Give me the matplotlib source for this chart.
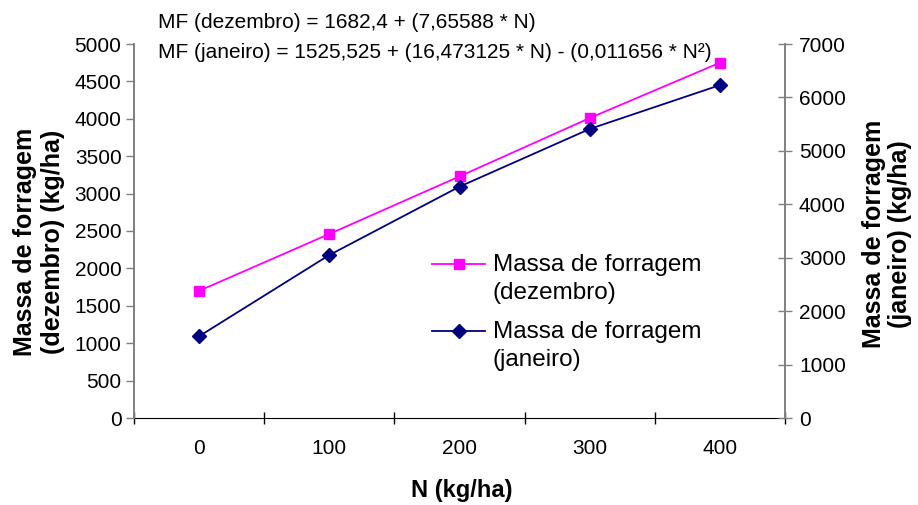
import matplotlib
matplotlib.use("Agg")
import matplotlib.pyplot as plt
import numpy as np

plt.rcParams['font.family'] = ['Liberation Sans', 'DejaVu Sans']

# N doses (kg/ha) and forage mass for each month
doses = ['0', '100', '200', '300', '400']
mf_dezembro = [1700, 2460, 3230, 4010, 4750]
mf_janeiro = [1530, 3050, 4330, 5410, 6230]

eq_dez = 'MF (dezembro) = 1682,4 + (7,65588 * N)'
eq_jan = 'MF (janeiro) = 1525,525 + (16,473125 * N) - (0,011656 * N\u00b2)'

fig = plt.figure(figsize=(9.18, 5.05), dpi=100)
ax = fig.add_axes([134 / 918, 87 / 505, (785 - 134) / 918, (418 - 44) / 505])
ax2 = ax.twinx()

x = np.arange(len(doses))
l1, = ax.plot(x, mf_dezembro, color='#FF00FF', lw=1.3, marker='s', ms=7.5,
              label='Massa de forragem\n(dezembro)')
l2, = ax2.plot(x, mf_janeiro, color='#000080', lw=1.3, marker='D', ms=7,
               label='Massa de forragem\n(janeiro)')

ax.set_xlim(-0.5, len(doses) - 0.5)
ax.set_ylim(0, 5000)
ax2.set_ylim(0, 7000)
ax.set_yticks(np.arange(0, 5001, 500))
ax2.set_yticks(np.arange(0, 7001, 1000))

ax.set_xticks(x)
ax.set_xticklabels(doses)
ax.set_xticks(np.arange(-0.5, len(doses)), minor=True)
ax.tick_params(axis='x', which='major', length=0, pad=15, labelsize=15)
ax.tick_params(axis='x', which='minor', direction='inout', length=9,
               width=1, color='black')
ax.tick_params(axis='y', direction='out', length=6, width=1,
               color='#808080', labelsize=15, pad=3)
ax2.tick_params(axis='y', direction='inout', length=10, width=1,
                color='#808080', labelsize=15, pad=5)

for a in (ax, ax2):
    a.spines['top'].set_visible(False)
    a.spines['left'].set_color('#808080')
    a.spines['right'].set_color('#808080')
    a.spines['bottom'].set_color('black')
    a.spines['left'].set_linewidth(1.2)
    a.spines['right'].set_linewidth(1.2)
ax2.spines['bottom'].set_visible(False)

fig.text(39 / 918, 1 - 242 / 505, 'Massa de forragem\n(dezembro) (kg/ha)',
         rotation=90, ha='center', va='center', fontsize=18,
         fontweight='bold', linespacing=1.2)
fig.text(887 / 918, 1 - 234 / 505, 'Massa de forragem\n(janeiro) (kg/ha)',
         rotation=90, ha='center', va='center', fontsize=18,
         fontweight='bold', linespacing=1.1)
fig.text(462 / 918, 1 - 490 / 505, 'N (kg/ha)', ha='center', va='center',
         fontsize=17, fontweight='bold')

fig.text(158 / 918, 1 - 22 / 505, eq_dez, ha='left', va='center', fontsize=15)
fig.text(158 / 918, 1 - 53 / 505, eq_jan, ha='left', va='center', fontsize=15)

leg = fig.legend(handles=[l1, l2], loc='upper left',
                 bbox_to_anchor=(432 / 918, 1 - 254 / 505),
                 frameon=False, borderpad=0, borderaxespad=0,
                 handlelength=2.2, handleheight=1.1, handletextpad=0.3,
                 labelspacing=0.7, fontsize=17.5)
for t in leg.get_texts():
    t.set_linespacing(1.35)
# put each legend symbol level with the first line of its label
for col in leg._legend_handle_box.get_children():
    for row in col.get_children():
        row.align = 'top'

fig.savefig('out.png', dpi=100)
